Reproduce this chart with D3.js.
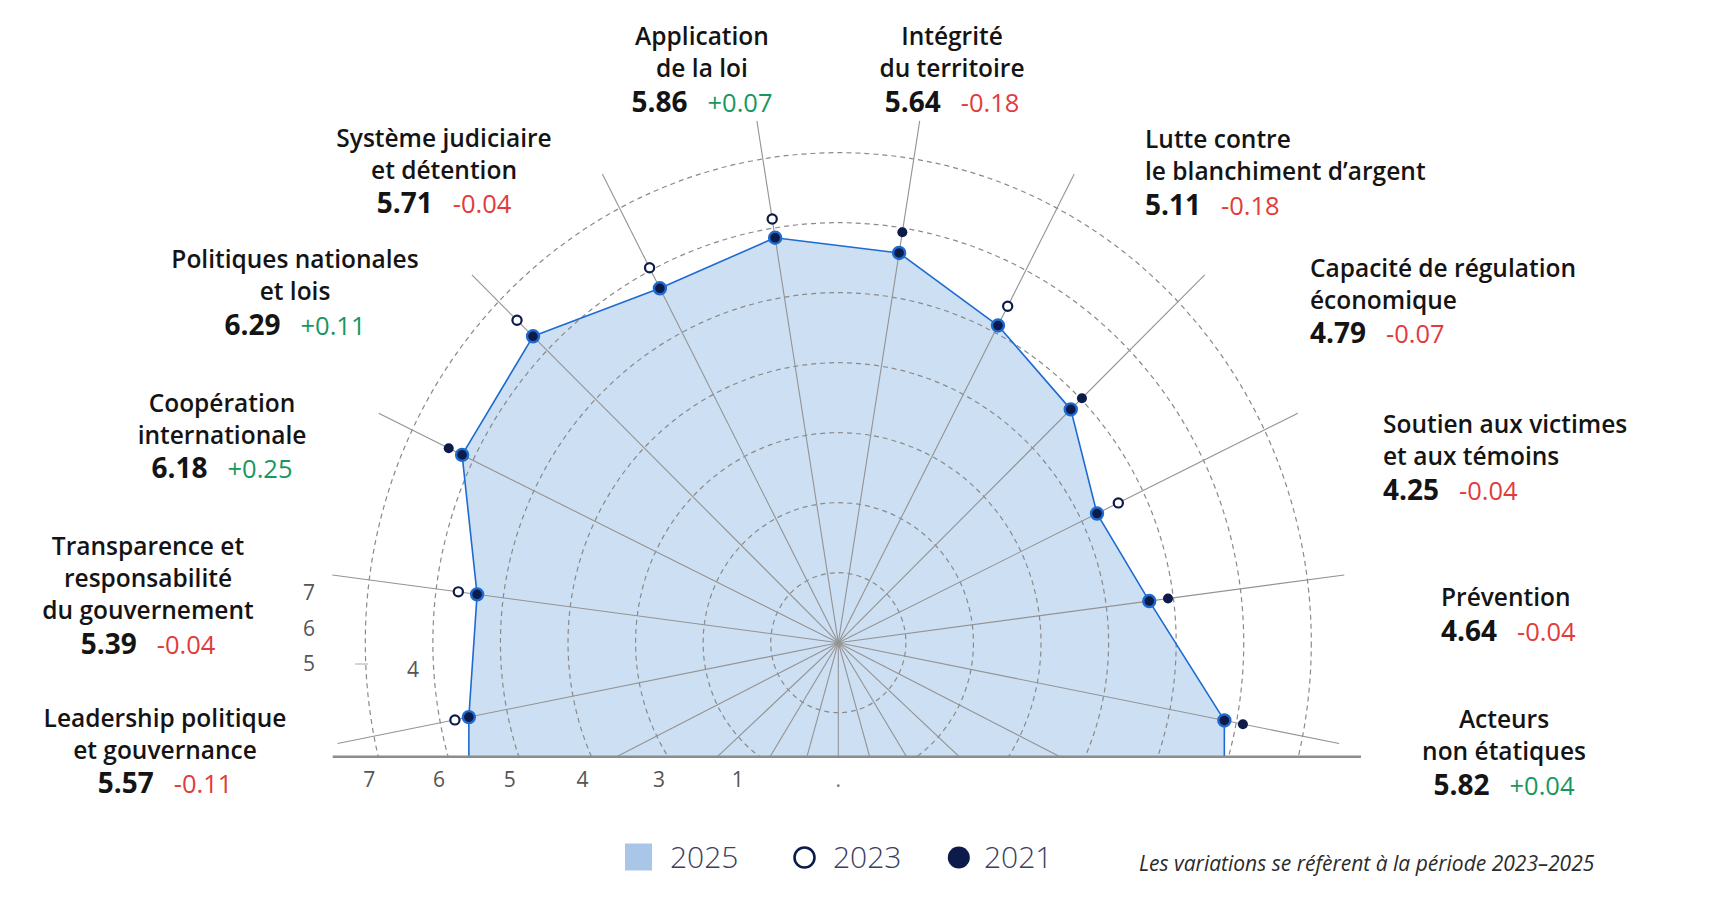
<!DOCTYPE html>
<html><head><meta charset="utf-8">
<script src="https://cdn.jsdelivr.net/npm/d3@7"></script>
<style>
html,body{margin:0;padding:0;background:#fff;}
svg{display:block;font-family:"Open Sans",sans-serif;}
</style></head><body>
<svg id="chart" width="1724" height="912"></svg>
<script>
// ---------- DATA ----------
const categories = [
  "Leadership politique et gouvernance",
  "Transparence et responsabilité du gouvernement",
  "Coopération internationale",
  "Politiques nationales et lois",
  "Système judiciaire et détention",
  "Application de la loi",
  "Intégrité du territoire",
  "Lutte contre le blanchiment d’argent",
  "Capacité de régulation économique",
  "Soutien aux victimes et aux témoins",
  "Prévention",
  "Acteurs non étatiques"
];
const nameLines = [
  ["Leadership politique","et gouvernance"],
  ["Transparence et","responsabilité","du gouvernement"],
  ["Coopération","internationale"],
  ["Politiques nationales","et lois"],
  ["Système judiciaire","et détention"],
  ["Application","de la loi"],
  ["Intégrité","du territoire"],
  ["Lutte contre","le blanchiment d’argent"],
  ["Capacité de régulation","économique"],
  ["Soutien aux victimes","et aux témoins"],
  ["Prévention"],
  ["Acteurs","non étatiques"]
];
const values2025 = [5.57, 5.39, 6.18, 6.29, 5.71, 5.86, 5.64, 5.11, 4.79, 4.25, 4.64, 5.82];
const changes2023to2025 = [-0.11, -0.04, 0.25, 0.11, -0.04, 0.07, -0.18, -0.18, -0.07, -0.04, -0.04, 0.04];
// markers visible in the picture (null = not visible)
const values2023 = [5.78, 5.67, null, 6.62, 6.04, 6.13, null, 5.42, null, 4.60, null, null];
const values2021 = [null, null, 6.40, null, null, null, 5.94, null, 5.02, null, 4.92, 6.10];
const ringValues = [1, 2, 3, 4, 5, 6, 7];
const bottomTickRings = [7, 6, 5, 4, 3, 2];
const bottomTickLabels = ["7", "6", "5", "4", "3", "1"];
const sideTickLabels = ["7", "6", "5"];
const legendYears = ["2025", "2023", "2021"];
const noteText = "Les variations se réfèrent à la période 2023–2025";

// ---------- LAYOUT ----------
const W = 1724, H = 912;
const cx = 838.3, cy = 642.7, baseY = 756.7, k = 1.036;
const r = d3.scaleLinear().domain([0, 7]).range([0, 473]);
const ang = d3.scalePoint().domain(categories).range([-11, 191]); // degrees: 0 = left, 90 = up
const lowerAngles = d3.range(9).map(i => -26.4 - i * (127.2 / 8));
function pt(a, v) {
  const t = a * Math.PI / 180, rr = r(v);
  return [cx - rr * Math.cos(t), cy - k * rr * Math.sin(t)];
}
// annotation anchors (x, first baseline, alignment)
const labelLayout = [
  {x:165, y:726.7, a:"middle"},
  {x:148, y:555, a:"middle"},
  {x:222, y:411.7, a:"middle"},
  {x:295, y:268.3, a:"middle"},
  {x:444, y:146.7, a:"middle"},
  {x:702, y:45, a:"middle"},
  {x:952, y:45, a:"middle"},
  {x:1145, y:148.3, a:"start"},
  {x:1310, y:276.7, a:"start"},
  {x:1383, y:433.3, a:"start"},
  {x:1441, y:606, a:"start"},
  {x:1504, y:728.3, a:"middle"}
];

const navy = "#0d1b4a", blue = "#1d6bd0", fillBlue = "#cddff3";
const svg = d3.select("#chart");
svg.append("rect").attr("width", W).attr("height", H).attr("fill", "#ffffff");

svg.append("defs").append("clipPath").attr("id", "clipTop")
  .append("rect").attr("x", 0).attr("y", 0).attr("width", W).attr("height", baseY);

const g = svg.append("g").attr("clip-path", "url(#clipTop)");

// polygon fill
const pts = categories.map((c, i) => pt(ang(c), values2025[i]));
const first = pts[0], last = pts[pts.length - 1];
const outline = [[first[0], baseY + 5], ...pts, [last[0], baseY + 5]];
g.append("path")
  .attr("d", d3.line()(outline) + "Z")
  .attr("fill", fillBlue);

// rings
g.selectAll("ellipse.ring").data(ringValues).join("ellipse")
  .attr("class", "ring")
  .attr("cx", cx).attr("cy", cy)
  .attr("rx", d => r(d)).attr("ry", d => k * r(d))
  .attr("fill", "none").attr("stroke", "#8a8a8a")
  .attr("stroke-width", 1.2).attr("stroke-dasharray", "5,4");

// spokes
const allAngles = categories.map(c => ang(c)).concat(lowerAngles);
g.selectAll("line.spoke").data(allAngles).join("line")
  .attr("class", "spoke")
  .attr("x1", cx).attr("y1", cy)
  .attr("x2", d => pt(d, 7.55)[0]).attr("y2", d => pt(d, 7.55)[1])
  .attr("stroke", "#939393").attr("stroke-width", 1.1);

// polygon outline
g.append("path")
  .attr("d", d3.line()(outline))
  .attr("fill", "none").attr("stroke", blue).attr("stroke-width", 1.6)
  .attr("stroke-linejoin", "round");

// baseline
svg.append("line")
  .attr("x1", 332.7).attr("x2", 1361).attr("y1", baseY).attr("y2", baseY)
  .attr("stroke", "#8c8c8c").attr("stroke-width", 2.5);

// markers
const m23 = categories.map((c, i) => ({c, v: values2023[i]})).filter(d => d.v != null);
const m21 = categories.map((c, i) => ({c, v: values2021[i]})).filter(d => d.v != null);
svg.selectAll("circle.m21").data(m21).join("circle")
  .attr("cx", d => pt(ang(d.c), d.v)[0]).attr("cy", d => pt(ang(d.c), d.v)[1])
  .attr("r", 5).attr("fill", navy);
svg.selectAll("circle.m23").data(m23).join("circle")
  .attr("cx", d => pt(ang(d.c), d.v)[0]).attr("cy", d => pt(ang(d.c), d.v)[1])
  .attr("r", 4.6).attr("fill", "#fff").attr("stroke", navy).attr("stroke-width", 2.2);
svg.selectAll("circle.m25").data(pts).join("circle")
  .attr("cx", d => d[0]).attr("cy", d => d[1])
  .attr("r", 6).attr("fill", navy).attr("stroke", blue).attr("stroke-width", 2.4);

// tick labels
const h0 = (baseY - cy) / k;
svg.selectAll("text.btick").data(bottomTickRings).join("text")
  .attr("x", (d) => cx - Math.sqrt(r(d) * r(d) - h0 * h0) - (d === 2 ? 22 : 9))
  .attr("y", 786.7).attr("text-anchor", "middle")
  .attr("font-size", 21).attr("fill", "#555")
  .text((d, i) => bottomTickLabels[i]);
svg.append("text").attr("x", cx).attr("y", 786.7).attr("text-anchor", "middle")
  .attr("font-size", 21).attr("fill", "#777").text(".");
svg.selectAll("text.stick").data(sideTickLabels).join("text")
  .attr("x", 309).attr("y", (d, i) => 600 + i * 35.5).attr("text-anchor", "middle")
  .attr("font-size", 21).attr("fill", "#555").text(d => d);
svg.append("text").attr("x", 413).attr("y", 677).attr("text-anchor", "middle")
  .attr("font-size", 21).attr("fill", "#555").text("4");
svg.append("line").attr("x1", 355).attr("x2", 368).attr("y1", 664).attr("y2", 664)
  .attr("stroke", "#aaa").attr("stroke-width", 1);

// category labels
const fmtChange = v => (v > 0 ? "+" : "-") + Math.abs(v).toFixed(2);
categories.forEach((c, i) => {
  const L = labelLayout[i];
  const lines = nameLines[i];
  const t = svg.append("g");
  lines.forEach((ln, j) => {
    t.append("text").attr("x", L.x).attr("y", L.y + j * 32)
      .attr("text-anchor", L.a).attr("font-size", 24.5).attr("font-weight", 600)
      .attr("fill", "#141414").text(ln);
  });
  const nt = t.append("text").attr("x", L.x).attr("y", L.y + (lines.length - 1) * 32 + 34.5)
    .attr("text-anchor", L.a);
  nt.append("tspan").attr("font-size", 28).attr("font-weight", 700).attr("fill", "#141414")
    .text(values2025[i].toFixed(2));
  nt.append("tspan").attr("dx", 20).attr("font-size", 25.5).attr("font-weight", 400)
    .attr("fill", changes2023to2025[i] > 0 ? "#17975f" : "#e23b3b")
    .text(fmtChange(changes2023to2025[i]));
});

// legend
const lg = svg.append("g");
lg.append("rect").attr("x", 625).attr("y", 843.5).attr("width", 27).attr("height", 27).attr("fill", "#a9c6e8");
lg.append("circle").attr("cx", 804.5).attr("cy", 857.5).attr("r", 10).attr("fill", "#fff")
  .attr("stroke", navy).attr("stroke-width", 2.6);
lg.append("circle").attr("cx", 958.8).attr("cy", 857.5).attr("r", 11).attr("fill", navy);
const legX = [670, 833, 984];
lg.selectAll("text").data(legendYears).join("text")
  .attr("x", (d, i) => legX[i]).attr("y", 868)
  .attr("font-size", 30).attr("font-weight", 300).attr("fill", "#3a4062").text(d => d);

svg.append("text").attr("x", 1139).attr("y", 871)
  .attr("font-size", 21).attr("font-style", "italic").attr("fill", "#2b2b2b").text(noteText);
</script>
</body></html>
